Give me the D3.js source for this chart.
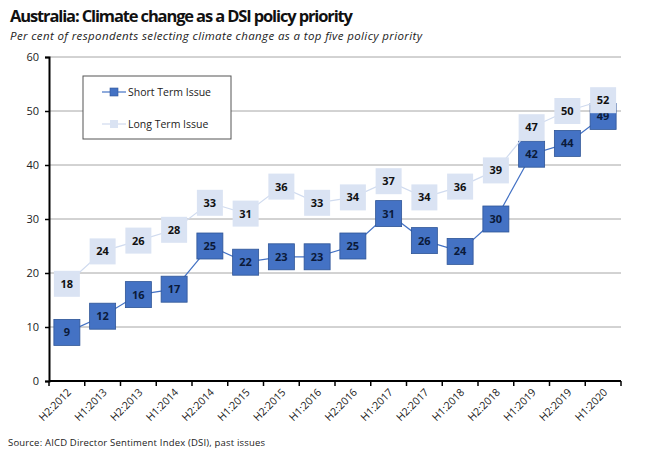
<!DOCTYPE html>
<html lang="en">
<head>
<meta charset="UTF-8">
<script src="https://d3js.org/d3.v7.min.js"></script>
<title>Climate change as a DSI policy priority</title>
<style>
    body { margin: 0; background: white; }
    text { font-family: "Open Sans", "Liberation Sans", sans-serif; }
</style>
</head>
<body>
<script>
    // ---------------- data ----------------
    const periods = ["H2:2012", "H1:2013", "H2:2013", "H1:2014", "H2:2014", "H1:2015", "H2:2015", "H1:2016",
        "H2:2016", "H1:2017", "H2:2017", "H1:2018", "H2:2018", "H1:2019", "H2:2019", "H1:2020"];
    const shortTerm = [9, 12, 16, 17, 25, 22, 23, 23, 25, 31, 26, 24, 30, 42, 44, 49];
    const longTerm = [18, 24, 26, 28, 33, 31, 36, 33, 34, 37, 34, 36, 39, 47, 50, 52];
    const yTicks = [0, 10, 20, 30, 40, 50, 60];
    const seriesNames = ["Short Term Issue", "Long Term Issue"];

    // ---------------- layout ----------------
    const width = 650, height = 455;
    const margin = { left: 49, right: 29, top: 57, bottom: 74 };

    const svg = d3.select("body").append("svg")
        .attr("width", width)
        .attr("height", height);

    const x = d3.scaleBand()
        .domain(periods)
        .range([margin.left, width - margin.right]);

    const y = d3.scaleLinear()
        .domain([0, 60])
        .range([height - margin.bottom, margin.top]);

    // title + subtitle
    svg.append("text")
        .attr("x", 10).attr("y", 22)
        .attr("font-size", 16.5).attr("font-weight", "bold")
        .attr("fill", "#111")
        .attr("textLength", 343)
        .text("Australia: Climate change as a DSI policy priority");
    svg.append("text")
        .attr("x", 10).attr("y", 40)
        .attr("font-size", 11.5).attr("font-style", "italic")
        .attr("fill", "#222")
        .attr("textLength", 412)
        .text("Per cent of respondents selecting climate change as a top five policy priority");

    // gridlines
    svg.append("g")
        .selectAll("line")
        .data(yTicks.filter(d => d > 0))
        .join("line")
        .attr("x1", margin.left).attr("x2", width - margin.right)
        .attr("y1", d => y(d)).attr("y2", d => y(d))
        .attr("stroke", "#a6a6a6").attr("stroke-width", 1);

    // y axis
    const yAxis = svg.append("g")
        .attr("transform", `translate(${margin.left},0)`)
        .call(d3.axisLeft(y).tickValues(yTicks).tickSize(4).tickPadding(6));
    yAxis.select(".domain").attr("stroke", "#000").attr("stroke-width", 2);
    yAxis.selectAll(".tick line").attr("stroke", "#000").attr("stroke-width", 1.5);
    yAxis.selectAll(".tick text").attr("font-size", 11).attr("fill", "#222")
        .style("font-family", "'Open Sans', sans-serif");

    // x axis (ticks between categories)
    const xAxis = svg.append("g")
        .attr("transform", `translate(0,${y(0)})`);
    xAxis.append("line")
        .attr("x1", margin.left).attr("x2", width - margin.right)
        .attr("stroke", "#000").attr("stroke-width", 2);
    const bounds = periods.map(p => x(p)).concat([x(periods[periods.length - 1]) + x.bandwidth()]);
    xAxis.selectAll("line.tk")
        .data(bounds)
        .join("line")
        .attr("class", "tk")
        .attr("x1", d => d).attr("x2", d => d)
        .attr("y1", 0).attr("y2", 5)
        .attr("stroke", "#000").attr("stroke-width", 1.5);
    xAxis.selectAll("text")
        .data(periods)
        .join("text")
        .attr("transform", d => `translate(${x(d) + x.bandwidth() / 2 + 5},${12}) rotate(-45)`)
        .attr("text-anchor", "end")
        .attr("font-size", 10.5)
        .attr("fill", "#222")
        .text(d => d);

    // series
    const series = [
        { name: seriesNames[0], values: shortTerm, line: "#4472c4", fill: "#4472c4", stroke: "#2f5597", text: "#0b1a3a" },
        { name: seriesNames[1], values: longTerm, line: "#d0dbef", fill: "#dae3f3", stroke: "none", text: "#111" }
    ];
    const cx = i => x(periods[i]) + x.bandwidth() / 2;
    const line = d3.line().x((d, i) => cx(i)).y(d => y(d));
    const box = 26;

    // short term first, long term drawn on top
    series.forEach(s => {
        const g = svg.append("g");
        g.append("path")
            .attr("d", line(s.values))
            .attr("fill", "none")
            .attr("stroke", s.line)
            .attr("stroke-width", 1.2);
        const pts = g.selectAll("g.pt")
            .data(s.values)
            .join("g")
            .attr("class", "pt")
            .attr("transform", (d, i) => `translate(${cx(i)},${y(d)})`);
        pts.append("rect")
            .attr("x", -box / 2).attr("y", -box / 2)
            .attr("width", box).attr("height", box)
            .attr("fill", s.fill)
            .attr("stroke", s.stroke).attr("stroke-width", 0.8);
        pts.append("text")
            .attr("text-anchor", "middle")
            .attr("dy", "0.36em")
            .attr("font-size", 11).attr("font-weight", "bold")
            .attr("fill", s.text)
            .text(d => d);
    });

    // legend
    const lg = svg.append("g").attr("transform", "translate(83,76)");
    lg.append("rect")
        .attr("width", 148).attr("height", 63)
        .attr("fill", "white").attr("stroke", "#555").attr("stroke-width", 1);
    series.forEach((s, i) => {
        const yy = 16 + i * 32;
        lg.append("line")
            .attr("x1", 19).attr("x2", 43).attr("y1", yy).attr("y2", yy)
            .attr("stroke", s.line).attr("stroke-width", 1.2);
        lg.append("rect")
            .attr("x", 27).attr("y", yy - 4).attr("width", 8).attr("height", 8)
            .attr("fill", s.fill).attr("stroke", s.stroke).attr("stroke-width", 0.6);
        lg.append("text")
            .attr("x", 45).attr("y", yy).attr("dy", "0.35em")
            .attr("font-size", 10.5).attr("fill", "#222")
            .text(s.name);
    });

    // source
    svg.append("text")
        .attr("x", 8).attr("y", 446)
        .attr("font-size", 9.5).attr("fill", "#222")
        .attr("textLength", 257)
        .text("Source: AICD Director Sentiment Index (DSI), past issues");
</script>
</body>
</html>
